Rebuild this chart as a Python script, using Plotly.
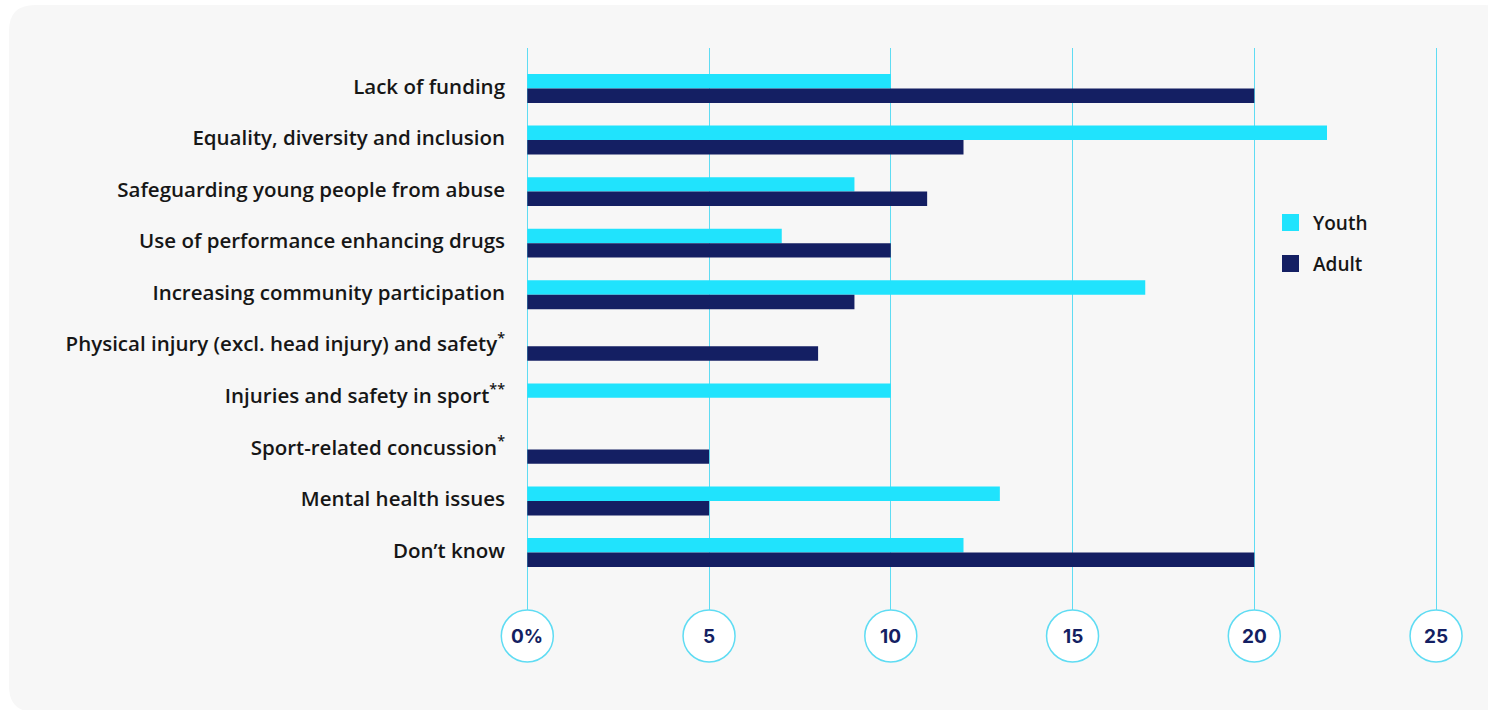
import plotly.graph_objects as go

# Survey data: share of respondents (%) naming each issue
categories = [
    "Lack of funding",
    "Equality, diversity and inclusion",
    "Safeguarding young people from abuse",
    "Use of performance enhancing drugs",
    "Increasing community participation",
    "Physical injury (excl. head injury) and safety<sup>*</sup>",
    "Injuries and safety in sport<sup>**</sup>",
    "Sport-related concussion<sup>*</sup>",
    "Mental health issues",
    "Don’t know",
]
youth = [10, 22, 9, 7, 17, None, 10, None, 13, 12]
adult = [20, 12, 11, 10, 9, 8, None, 5, 5, 20]
tick_values = [0, 5, 10, 15, 20, 25]
tick_labels = ["0%", "5", "10", "15", "20", "25"]
series_names = ["Youth", "Adult"]

YOUTH_COLOR = "#20e3fd"
ADULT_COLOR = "#141f63"
GRID_COLOR = "#5fdcf3"
TEXT_COLOR = "#161616"
LABEL_FONT = "Open Sans"

W, H = 1488, 710
ML, MR, MT, MB = 520, 28, 48, 100
PW, PH = W - ML - MR, H - MT - MB

def px_x(p):
    return (p - ML) / PW

def px_y(p):
    return (H - MB - p) / PH

fig = go.Figure()
for name, vals, col in zip(series_names, [youth, adult], [YOUTH_COLOR, ADULT_COLOR]):
    fig.add_trace(go.Bar(
        y=categories, x=vals, name=name, orientation="h",
        marker=dict(color=col, line=dict(width=0)), showlegend=False,
    ))

# Rounded light-grey panel behind the chart
left, top, right, bottom, r = 9, 5, 1510, 712, 26
path = (
    f"M {px_x(left + r)},{px_y(top)} L {px_x(right - r)},{px_y(top)} "
    f"Q {px_x(right)},{px_y(top)} {px_x(right)},{px_y(top + r)} "
    f"L {px_x(right)},{px_y(bottom - r)} "
    f"Q {px_x(right)},{px_y(bottom)} {px_x(right - r)},{px_y(bottom)} "
    f"L {px_x(left + r)},{px_y(bottom)} "
    f"Q {px_x(left)},{px_y(bottom)} {px_x(left)},{px_y(bottom - r)} "
    f"L {px_x(left)},{px_y(top + r)} "
    f"Q {px_x(left)},{px_y(top)} {px_x(left + r)},{px_y(top)} Z"
)
shapes = [dict(type="path", xref="paper", yref="paper", path=path,
               fillcolor="#f7f7f7", line=dict(width=0), layer="below")]

unit = 36.35
zero_px = 527.3
x0 = -(zero_px - ML) / unit
x1 = x0 + PW / unit

# Circular badges for the value axis labels
badge_y = px_y(636)
annotations = []
for v, lab in zip(tick_values, tick_labels):
    cx = px_x(zero_px + v * unit)
    shapes.append(dict(
        type="circle", xref="paper", yref="paper",
        xsizemode="pixel", ysizemode="pixel",
        xanchor=cx, yanchor=badge_y,
        x0=-26, x1=26, y0=-26, y1=26,
        fillcolor="white", line=dict(color=GRID_COLOR, width=1.5),
        layer="above",
    ))
    annotations.append(dict(
        x=cx, y=badge_y, xref="paper", yref="paper", text=f"<b>{lab}</b>",
        showarrow=False, xanchor="center", yanchor="middle",
        font=dict(family="Inter", size=19, color=ADULT_COLOR),
    ))

# Legend: coloured squares with series names
for i, (name, col) in enumerate(zip(series_names, [YOUTH_COLOR, ADULT_COLOR])):
    cy = 222.5 + i * 41
    shapes.append(dict(
        type="rect", xref="paper", yref="paper",
        x0=px_x(1282), x1=px_x(1299), y0=px_y(cy - 8.5), y1=px_y(cy + 8.5),
        fillcolor=col, line=dict(width=0), layer="above",
    ))
    annotations.append(dict(
        x=px_x(1311), y=px_y(cy), xref="paper", yref="paper", text=name,
        showarrow=False, xanchor="left", yanchor="middle",
        font=dict(family=LABEL_FONT, size=19, color=TEXT_COLOR, weight=600),
    ))

fig.update_layout(
    width=W, height=H,
    margin=dict(l=ML, r=MR, t=MT, b=MB),
    paper_bgcolor="white",
    plot_bgcolor="rgba(0,0,0,0)",
    barmode="group",
    bargap=0.44,
    bargroupgap=0,
    showlegend=False,
    shapes=shapes,
    annotations=annotations,
    font=dict(family=LABEL_FONT, color=TEXT_COLOR),
    xaxis=dict(
        range=[x0, x1], tickvals=tick_values, showticklabels=False,
        showgrid=True, gridcolor=GRID_COLOR, gridwidth=1.2,
        zeroline=False, showline=False, fixedrange=True,
    ),
    yaxis=dict(
        type="category", categoryorder="array", categoryarray=categories,
        range=[9 + 1.115, -0.785], showgrid=False, zeroline=False,
        showline=False, ticks="", ticklabelstandoff=14, ticklabelshift=2,
        tickfont=dict(family=LABEL_FONT, size=20.5, color=TEXT_COLOR, weight=600),
    ),
)

fig.write_html("out.html")
